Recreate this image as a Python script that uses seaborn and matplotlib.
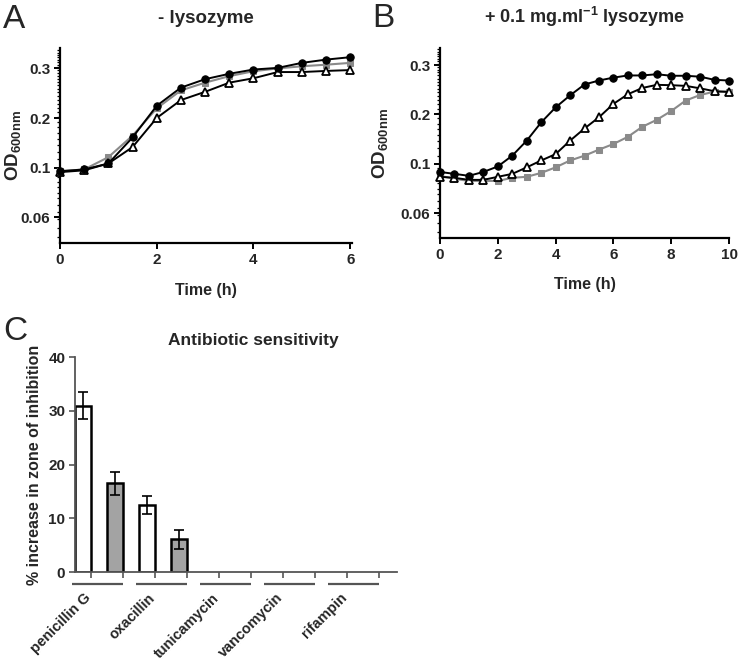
import numpy as np
import pandas as pd
import matplotlib
matplotlib.use("Agg")
import matplotlib.pyplot as plt
import matplotlib.ticker as mticker
import matplotlib.transforms as mtransforms
import seaborn as sns

# ---------------- data ----------------
time_a = [0, 0.5, 1, 1.5, 2, 2.5, 3, 3.5, 4, 4.5, 5, 5.5, 6]
a_circle = [0.096, 0.098, 0.105, 0.142, 0.205, 0.253, 0.279, 0.297, 0.312, 0.318, 0.337, 0.350, 0.360]
a_square = [0.096, 0.098, 0.113, 0.145, 0.199, 0.245, 0.268, 0.289, 0.306, 0.316, 0.324, 0.330, 0.337]
a_triangle = [0.095, 0.097, 0.105, 0.127, 0.178, 0.219, 0.241, 0.268, 0.282, 0.303, 0.303, 0.307, 0.310]

time_b = [0, 0.5, 1, 1.5, 2, 2.5, 3, 3.5, 4, 4.5, 5, 5.5, 6, 6.5, 7, 7.5, 8, 8.5, 9, 9.5, 10]
b_circle = [0.091, 0.089, 0.087, 0.091, 0.097, 0.110, 0.131, 0.162, 0.193, 0.222, 0.252, 0.264, 0.273,
            0.280, 0.280, 0.284, 0.279, 0.279, 0.276, 0.266, 0.264]
b_triangle = [0.086, 0.085, 0.083, 0.083, 0.086, 0.089, 0.096, 0.104, 0.112, 0.131, 0.151, 0.172, 0.201,
              0.225, 0.242, 0.251, 0.250, 0.248, 0.241, 0.233, 0.231]
b_square = [0.087, 0.084, 0.082, 0.082, 0.082, 0.085, 0.086, 0.090, 0.096, 0.104, 0.110, 0.118, 0.126,
            0.137, 0.154, 0.167, 0.185, 0.209, 0.223, 0.232, 0.232]

od_tick_labels = ["0.3", "0.2", "0.1", "0.06"]
od_tick_exponents = [-0.5, -0.75, -1.0, -1.25]

antibiotics = ["penicillin G", "oxacillin", "tunicamycin", "vancomycin", "rifampin"]
white_vals = [31.0, 12.5, 0, 0, 0]
white_err = [2.5, 1.7, 0, 0, 0]
gray_vals = [16.5, 6.1, 0, 0, 0]
gray_err = [2.2, 1.8, 0, 0, 0]

# ---------------- style ----------------
sns.set_style("ticks")
plt.rcParams["font.family"] = ["Liberation Sans", "DejaVu Sans"]
plt.rcParams["font.weight"] = "bold"
plt.rcParams["mathtext.fontset"] = "custom"
plt.rcParams["mathtext.rm"] = "Liberation Sans:bold"
plt.rcParams["mathtext.bf"] = "Liberation Sans:bold"
plt.rcParams["mathtext.it"] = "Liberation Sans:bold"

W, H = 740, 664
fig = plt.figure(figsize=(W / 100, H / 100), dpi=100)


def px_axes(left, top, right, bottom):
    return fig.add_axes([left / W, 1 - bottom / H, (right - left) / W, (bottom - top) / H])


GRAY_SQ = "#8a8a8a"


def growth_panel(ax, t, circ, sq, tri, xmax, xticks, ylim_exp):
    sns.lineplot(x=t, y=sq, ax=ax, color=GRAY_SQ, linewidth=1.5, marker="s", markersize=4.8,
                 markerfacecolor=GRAY_SQ, markeredgecolor=GRAY_SQ, clip_on=False, zorder=3)
    sns.lineplot(x=t, y=tri, ax=ax, color="black", linewidth=1.4, marker="^", markersize=5.8,
                 markerfacecolor="white", markeredgecolor="black", markeredgewidth=1.3,
                 clip_on=False, zorder=4)
    sns.lineplot(x=t, y=circ, ax=ax, color="black", linewidth=1.4, marker="o", markersize=5.3,
                 markerfacecolor="black", markeredgecolor="black", clip_on=False, zorder=5)
    ax.set_yscale("log")
    ax.set_ylim(10 ** ylim_exp[0], 10 ** ylim_exp[1])
    ax.set_xlim(0, xmax)
    ax.yaxis.set_major_locator(mticker.FixedLocator([10 ** e for e in od_tick_exponents]))
    ax.yaxis.set_major_formatter(mticker.FixedFormatter(od_tick_labels))
    minors = list(np.arange(0.045, 0.1, 0.005)) + list(np.arange(0.11, 0.40, 0.01))
    ax.yaxis.set_minor_locator(mticker.FixedLocator(minors))
    ax.yaxis.set_minor_formatter(mticker.NullFormatter())
    ax.set_xticks(xticks)
    ax.set_xticklabels([str(x) for x in xticks])
    ax.xaxis.set_minor_locator(mticker.NullLocator())
    for s in ["top", "right"]:
        ax.spines[s].set_visible(False)
    for s in ["left", "bottom"]:
        ax.spines[s].set_linewidth(1.6)
        ax.spines[s].set_color("black")
    ax.tick_params(axis="both", which="major", length=4, width=1.4, direction="out",
                   labelsize=11, pad=3, color="black")
    ax.tick_params(axis="y", which="minor", length=2, width=0.9, direction="out", color="black")
    for lab in ax.get_xticklabels() + ax.get_yticklabels():
        lab.set_fontweight("bold")
    ax.set_xlabel("Time (h)", fontsize=11.5, fontweight="bold")
    ax.set_ylabel(r"$\mathbf{OD_{600nm}}$", fontsize=13.5)


# Panel A
axA = px_axes(60, 48.3, 351.7, 243)
growth_panel(axA, time_a, a_circle, a_square, a_triangle, 6.03, [0, 2, 4, 6], (-1.379, -0.399))
axA.xaxis.set_label_coords(0.5, -0.205)
axA.yaxis.set_label_coords(-0.128, 0.5)
axA.text(0.5, 1.154, "- lysozyme", transform=axA.transAxes, ha="center", va="center",
         fontsize=13.5, fontweight="bold")

# Panel B
axB = px_axes(440, 48.3, 729, 238.3)
growth_panel(axB, time_b, b_circle, b_square, b_triangle, 10, [0, 2, 4, 6, 8, 10], (-1.3765, -0.4155))
axB.xaxis.set_label_coords(0.5, -0.204)
axB.yaxis.set_label_coords(-0.172, 0.5)
axB.text(0.5, 1.166, r"+ 0.1 mg.ml$^{\mathbf{-1}}$ lysozyme", transform=axB.transAxes,
         ha="center", va="center", fontsize=13, fontweight="bold")

# Panel C
axC = px_axes(75, 357.3, 397, 572)
slots = []
vals = []
errs = []
cols = {}
for i in range(len(antibiotics)):
    for j, (v, e, c) in enumerate([(white_vals[i], white_err[i], "white"),
                                   (gray_vals[i], gray_err[i], "#a3a3a3")]):
        k = 2 * i + j
        cols[str(k)] = c
        if v > 0:
            slots.append(str(k))
            vals.append(v)
            errs.append(e)
df = pd.DataFrame({"slot": slots, "value": vals, "err": errs})
order = [str(k) for k in range(2 * len(antibiotics))]
sns.barplot(data=df, x="slot", y="value", hue="slot", order=order, hue_order=order,
            palette=cols, width=0.5, edgecolor="black", linewidth=1.8, errorbar=None,
            legend=False, ax=axC, zorder=2)
xpos = [order.index(s) for s in df["slot"]]
axC.errorbar(xpos, df["value"], yerr=df["err"], fmt="none", ecolor="black", elinewidth=1.2,
             capsize=3.4, capthick=1.2, zorder=5)
axC.set_xlim(-0.25, 9.81)
axC.set_ylim(0, 40)
axC.set_yticks([0, 10, 20, 30, 40])
axC.set_yticklabels(["0", "10", "20", "30", "40"])
axC.set_xticks([2 * i + 0.25 for i in range(len(antibiotics))])
axC.set_xticklabels(antibiotics, rotation=45, ha="right", rotation_mode="anchor")
axC.set_xticks([2 * i + 1.25 for i in range(len(antibiotics))], minor=True)
for s in ["top", "right"]:
    axC.spines[s].set_visible(False)
for s in ["left", "bottom"]:
    axC.spines[s].set_linewidth(1.3)
    axC.spines[s].set_color("#555555")
axC.tick_params(axis="x", which="both", length=4.5, width=1.2, color="#555555", direction="out",
                labelsize=10.5, pad=9)
axC.tick_params(axis="y", which="major", length=4, width=1.2, color="#555555", direction="out",
                labelsize=11, pad=3)
shift = mtransforms.ScaledTranslation(-7 / 100, 0, fig.dpi_scale_trans)
for lab in axC.get_xticklabels():
    lab.set_fontweight("bold")
    lab.set_transform(lab.get_transform() + shift)
for lab in axC.get_yticklabels():
    lab.set_fontweight("bold")
axC.set_xlabel("")
axC.set_ylabel("% increase in zone of inhibition", fontsize=11.5, fontweight="bold")
axC.yaxis.set_label_coords(-0.102, 0.5)
trans = mtransforms.blended_transform_factory(axC.transData, axC.transAxes)
for i in range(len(antibiotics)):
    axC.plot([2 * i - 0.35, 2 * i + 1.25], [-0.056, -0.056], transform=trans, color="#555555",
             linewidth=1.6, clip_on=False, solid_capstyle="butt")
fig.text(253 / W, 1 - 340 / H, "Antibiotic sensitivity", ha="center", va="center",
         fontsize=12.5, fontweight="bold")

# Panel letters
fig.text(3 / W, 1 - 28 / H, "A", ha="left", va="baseline", fontsize=24, fontweight="normal")
fig.text(372 / W, 1 - 27 / H, "B", ha="left", va="baseline", fontsize=24, fontweight="normal")
fig.text(3 / W, 1 - 340 / H, "C", ha="left", va="baseline", fontsize=24, fontweight="normal")

fig.savefig("out.png", dpi=100)
